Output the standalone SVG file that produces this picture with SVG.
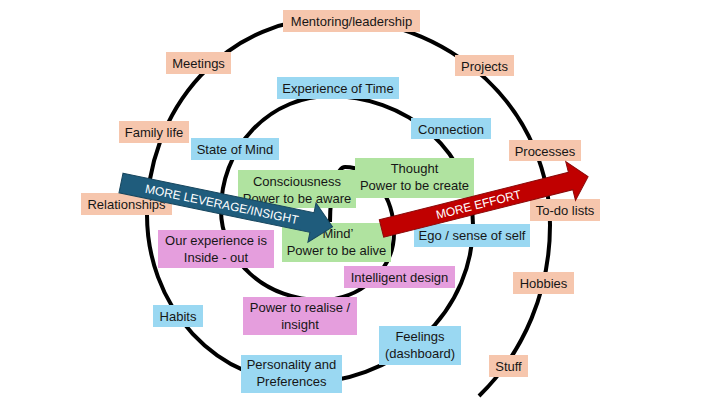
<svg xmlns="http://www.w3.org/2000/svg" width="720" height="405" viewBox="0 0 720 405">
<style>
text{font-family:"Liberation Sans",Arial,sans-serif;font-size:13px;fill:#161616;text-anchor:middle}
.o{fill:#f6c6ad}
.b{fill:#9ad8f2}
.g{fill:#b0e3a0}
.p{fill:#e59edd}
.spiral{fill:none;stroke:#000;stroke-width:4;stroke-linecap:butt}
.at{fill:#fff;font-size:12px}
</style>
<rect width="720" height="405" fill="#fff"/>
<g id="connectors">
<path class="spiral" d="M330,222 A15,55 0 0 1 345,167 A49,66 0 0 1 394,233 A74,67 0 0 1 320,300 A99,90 0 0 1 221,210 A109,114 0 0 1 330,96 A143,129 0 0 1 473,225 A170,158 0 0 1 303,383 A156,168 0 0 1 147,215 A183,197 0 0 1 330,18 A220,207 0 0 1 550,225 A220,232 0 0 1 479,396"/>
</g>
<g id="n-mentoring"><rect class="o" x="283" y="10" width="137" height="22"/><text x="351.5" y="26">Mentoring/leadership</text></g>
<g id="n-meetings"><rect class="o" x="166" y="52" width="65" height="22"/><text x="198.5" y="68">Meetings</text></g>
<g id="n-projects"><rect class="o" x="455" y="55" width="59" height="21"/><text x="484.5" y="70.5">Projects</text></g>
<g id="n-family"><rect class="o" x="119" y="121" width="70" height="22"/><text x="154" y="137">Family life</text></g>
<g id="n-processes"><rect class="o" x="509" y="140" width="72" height="21"/><text x="545" y="155.5">Processes</text></g>
<g id="n-relationships"><rect class="o" x="81" y="193" width="91" height="22"/><text x="126.5" y="209">Relationships</text></g>
<g id="n-todo"><rect class="o" x="530" y="199" width="70" height="22"/><text x="565" y="214.5">To-do lists</text></g>
<g id="n-hobbies"><rect class="o" x="513" y="272" width="61" height="22"/><text x="543.5" y="288">Hobbies</text></g>
<g id="n-stuff"><rect class="o" x="489" y="355" width="39" height="22"/><text x="508.5" y="371">Stuff</text></g>
<g id="n-time"><rect class="b" x="277" y="77" width="122" height="22"/><text x="338" y="93">Experience of Time</text></g>
<g id="n-connection"><rect class="b" x="411" y="118" width="80" height="21"/><text x="451" y="133.5">Connection</text></g>
<g id="n-stateofmind"><rect class="b" x="191" y="138" width="88" height="22"/><text x="235" y="154">State of Mind</text></g>
<g id="n-ego"><rect class="b" x="414" y="224" width="116" height="23"/><text x="472" y="240">Ego / sense of self</text></g>
<g id="n-habits"><rect class="b" x="153" y="305" width="50" height="22"/><text x="178" y="321">Habits</text></g>
<g id="n-personality"><rect class="b" x="241" y="355" width="101" height="38"/><text x="291.5" y="369">Personality and</text><text x="291.5" y="386">Preferences</text></g>
<g id="n-feelings"><rect class="b" x="379" y="326" width="82" height="39"/><text x="420" y="341">Feelings</text><text x="420" y="358">(dashboard)</text></g>
<g id="n-consciousness"><rect class="g" x="238" y="170" width="118" height="38"/><text x="297" y="186">Consciousness</text><text x="297" y="203">Power to be aware</text></g>
<g id="n-thought"><rect class="g" x="355" y="158" width="119" height="40"/><text x="414.5" y="173">Thought</text><text x="414.5" y="190">Power to be create</text></g>
<g id="n-mind"><rect class="g" x="282" y="223" width="109" height="39"/><text x="336.5" y="238">‘Mind’</text><text x="336.5" y="255">Power to be alive</text></g>
<g id="n-insideout"><rect class="p" x="158" y="230" width="116" height="38"/><text x="216" y="245">Our experience is</text><text x="216" y="262">Inside - out</text></g>
<g id="n-intelligent"><rect class="p" x="344" y="266" width="111" height="22"/><text x="399.5" y="282">Intelligent design</text></g>
<g id="n-realise"><rect class="p" x="243" y="297" width="114" height="38"/><text x="300" y="312">Power to realise /</text><text x="300" y="329">insight</text></g>
<g id="arrow-leverage" transform="translate(121,183) rotate(11.7)">
<polygon points="0,-10 195,-10 195,-20 216,0 195,20 195,10 0,10" fill="#1f5c7c" stroke="#17465e" stroke-width="1"/>
<text class="at" x="103" y="4.5">MORE LEVERAGE/INSIGHT</text>
</g>
<g id="arrow-effort" transform="translate(381.5,228.5) rotate(-14.1)">
<polygon points="0,-9 195,-9 195,-20 213,0 195,20 195,9 0,9" fill="#c00000" stroke="#8b0a0a" stroke-width="1"/>
<text class="at" x="100" y="4.5">MORE EFFORT</text>
</g>
</svg>
